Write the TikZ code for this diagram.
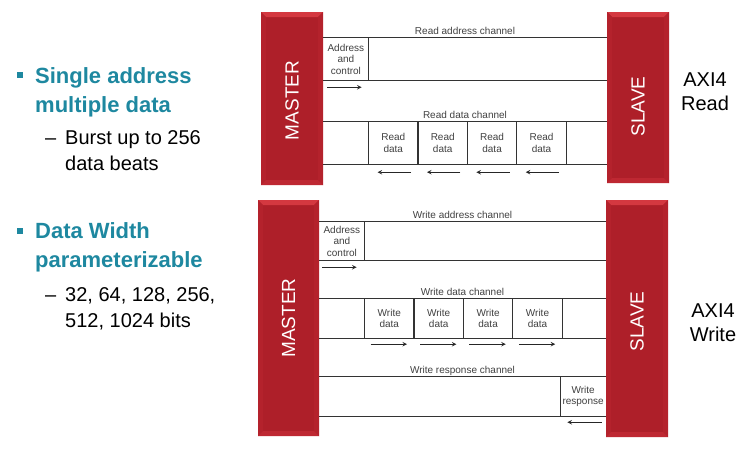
\documentclass[tikz,border=0pt]{standalone}
\usepackage{fontspec}
\setmainfont{Liberation Sans}
\usetikzlibrary{arrows, positioning, calc}

\definecolor{blockred}{RGB}{174,31,41}
\definecolor{bevtop}{RGB}{212,56,64}
\definecolor{bevside}{RGB}{180,34,44}
\definecolor{bevbot}{RGB}{190,40,50}
\definecolor{headteal}{RGB}{30,136,160}

\newcommand{\pbb}{path picture bounding box}
\tikzset{
	bevel/.style={path picture={
		\fill[bevtop] (\pbb.north west) -- (\pbb.north east) -- ([xshift=-5pt,yshift=-5pt]\pbb.north east) -- ([xshift=5pt,yshift=-5pt]\pbb.north west) -- cycle;
		\fill[bevside] (\pbb.north west) -- ([xshift=5pt,yshift=-5pt]\pbb.north west) -- ([xshift=5pt,yshift=5pt]\pbb.south west) -- (\pbb.south west) -- cycle;
		\fill[bevside] (\pbb.north east) -- ([xshift=-5pt,yshift=-5pt]\pbb.north east) -- ([xshift=-5pt,yshift=5pt]\pbb.south east) -- (\pbb.south east) -- cycle;
		\fill[bevbot] (\pbb.south west) -- (\pbb.south east) -- ([xshift=-5pt,yshift=5pt]\pbb.south east) -- ([xshift=5pt,yshift=5pt]\pbb.south west) -- cycle;
	}}
}

\begin{document}
\begin{tikzpicture}[x=1pt, y=-1pt]
	\tikzstyle{block} = [rectangle, minimum width=62pt, inner sep=0pt, fill=blockred, bevel]
	\tikzstyle{blocktext} = [rotate=90, text=white, font=\fontsize{19}{19}\selectfont]
	\tikzstyle{cell} = [rectangle, minimum width=45pt, inner sep=0pt, align=center, text=black!75, font=\fontsize{10}{11.5}\selectfont]
	\tikzstyle{dcell} = [cell, minimum width=49pt]
	\tikzstyle{chlabel} = [anchor=base, yshift=3.5pt, inner sep=0pt, text=black!75, font=\fontsize{10}{12}\selectfont]
	\tikzstyle{bus} = [draw=black!80, line width=1.1pt]
	\tikzstyle{arrow} = [black!85, line width=1pt, ->, >=stealth]
	\tikzstyle{head} = [anchor=base west, inner sep=0pt, text=headteal, font=\bfseries\fontsize{22}{24}\selectfont]
	\tikzstyle{sub} = [anchor=base west, inner sep=0pt, font=\fontsize{20}{22}\selectfont]
	\tikzstyle{bulletsq} = [rectangle, minimum size=6pt, inner sep=0pt, fill=headteal]
	\tikzstyle{axilabel} = [align=center, inner sep=0pt, font=\fontsize{20}{24}\selectfont]
	\useasboundingbox (0,0) rectangle (750,451);

	% left text
	\node (sq1) [bulletsq] at (20,74.5) {};
	\node (single) [head] at (35,83) {Single address};
	\node (multiple) [head] at (35,112) {multiple data};
	\node (dash1) [sub] at (45,144) {–};
	\node (burst) [sub] at (65,144) {Burst up to 256};
	\node (beats) [sub] at (65,170) {data beats};
	\node (sq2) [bulletsq] at (20,231) {};
	\node (width) [head] at (35,238) {Data Width};
	\node (param) [head] at (35,267) {parameterizable};
	\node (dash2) [sub] at (45,301) {–};
	\node (bits1) [sub] at (65,301) {32, 64, 128, 256,};
	\node (bits2) [sub] at (65,327) {512, 1024 bits};

	% read
	\node (mr) [block, minimum height=173pt, label={[yshift=-2pt, blocktext]center:MASTER}] at (292,98.5) {};
	\node (sr) [block, minimum height=171pt, label={[yshift=-9pt, blocktext]center:SLAVE}] at (638,97.5) {};
	\node (axiR) [axilabel] at (705,91.5) {AXI4\\Read};
	\node (addrR) [cell, minimum height=42pt, anchor=west] at (mr.east |- 0,59) {Address\\and\\control};
	\node (rd1) [dcell, minimum height=42pt, anchor=west] at (addrR.east |- 0,143) {Read\\data};
	\node (rd2) [dcell, minimum height=42pt, right=0pt of rd1] {Read\\data};
	\node (rd3) [dcell, minimum height=42pt, right=0pt of rd2] {Read\\data};
	\node (rd4) [dcell, minimum height=42pt, right=0pt of rd3] {Read\\data};
	\node (raLabel) [chlabel] at ($(mr.east |- addrR.north)!0.5!(sr.west |- addrR.north)$) {Read address channel};
	\node (rdLabel) [chlabel] at ($(mr.east |- rd1.north)!0.5!(sr.west |- rd1.north)$) {Read data channel};
	\draw [bus] (mr.east |- addrR.north) -- (sr.west |- addrR.north);
	\draw [bus] (mr.east |- addrR.south) -- (sr.west |- addrR.south);
	\draw [bus] (addrR.north east) -- (addrR.south east);
	\draw [bus] (mr.east |- rd1.north) -- (sr.west |- rd1.north);
	\draw [bus] (mr.east |- rd1.south) -- (sr.west |- rd1.south);
	\foreach \c in {rd1,rd2,rd3,rd4}
		\draw [bus] (\c.north west) -- (\c.south west);
	\draw [bus] (rd4.north east) -- (rd4.south east);
	\draw [arrow] ([xshift=4pt,yshift=-7pt]addrR.south west) -- ([xshift=-7pt,yshift=-7pt]addrR.south east);
	\foreach \c in {rd1,rd2,rd3,rd4}
		\draw [arrow] ([xshift=-7pt,yshift=-8pt]\c.south east) -- ([xshift=9pt,yshift=-8pt]\c.south west);

	% write
	\node (mw) [block, minimum width=61pt, minimum height=236pt, label={[blocktext]center:MASTER}] at (288.5,318) {};
	\node (sw) [block, minimum height=237pt, label={[yshift=-3pt, blocktext]center:SLAVE}] at (637,318.5) {};
	\node (axiW) [axilabel] at (713,322.5) {AXI4\\Write};
	\node (addrW) [cell, minimum height=38pt, anchor=west] at (mw.east |- 0,241) {Address\\and\\control};
	\node (wd1) [dcell, minimum height=39pt, anchor=west] at (addrW.east |- 0,318.5) {Write\\data};
	\node (wd2) [dcell, minimum height=39pt, right=0pt of wd1] {Write\\data};
	\node (wd3) [dcell, minimum height=39pt, right=0pt of wd2] {Write\\data};
	\node (wd4) [dcell, minimum height=39pt, right=0pt of wd3] {Write\\data};
	\node (wresp) [cell, minimum height=39pt, anchor=east] at (sw.west |- 0,396.5) {Write\\response};
	\node (waLabel) [chlabel] at ($(mw.east |- addrW.north)!0.5!(sw.west |- addrW.north)$) {Write address channel};
	\node (wdLabel) [chlabel] at ($(mw.east |- wd1.north)!0.5!(sw.west |- wd1.north)$) {Write data channel};
	\node (wrLabel) [chlabel] at ($(mw.east |- wresp.north)!0.5!(sw.west |- wresp.north)$) {Write response channel};
	\draw [bus] (mw.east |- addrW.north) -- (sw.west |- addrW.north);
	\draw [bus] (mw.east |- addrW.south) -- (sw.west |- addrW.south);
	\draw [bus] (addrW.north east) -- (addrW.south east);
	\draw [bus] (mw.east |- wd1.north) -- (sw.west |- wd1.north);
	\draw [bus] (mw.east |- wd1.south) -- (sw.west |- wd1.south);
	\foreach \c in {wd1,wd2,wd3,wd4}
		\draw [bus] (\c.north west) -- (\c.south west);
	\draw [bus] (wd4.north east) -- (wd4.south east);
	\draw [bus] (mw.east |- wresp.north) -- (wresp.north east);
	\draw [bus] (mw.east |- wresp.south) -- (wresp.south east);
	\draw [bus] (wresp.north west) -- (wresp.south west);
	\draw [arrow] ([xshift=3pt,yshift=-7pt]addrW.south west) -- ([xshift=-8pt,yshift=-7pt]addrW.south east);
	\foreach \c in {wd1,wd2,wd3,wd4}
		\draw [arrow] ([xshift=6pt,yshift=-6pt]\c.south west) -- ([xshift=-7pt,yshift=-6pt]\c.south east);
	\draw [arrow] ([xshift=-4pt,yshift=-6pt]wresp.south east) -- ([xshift=7pt,yshift=-6pt]wresp.south west);
\end{tikzpicture}
\end{document}
